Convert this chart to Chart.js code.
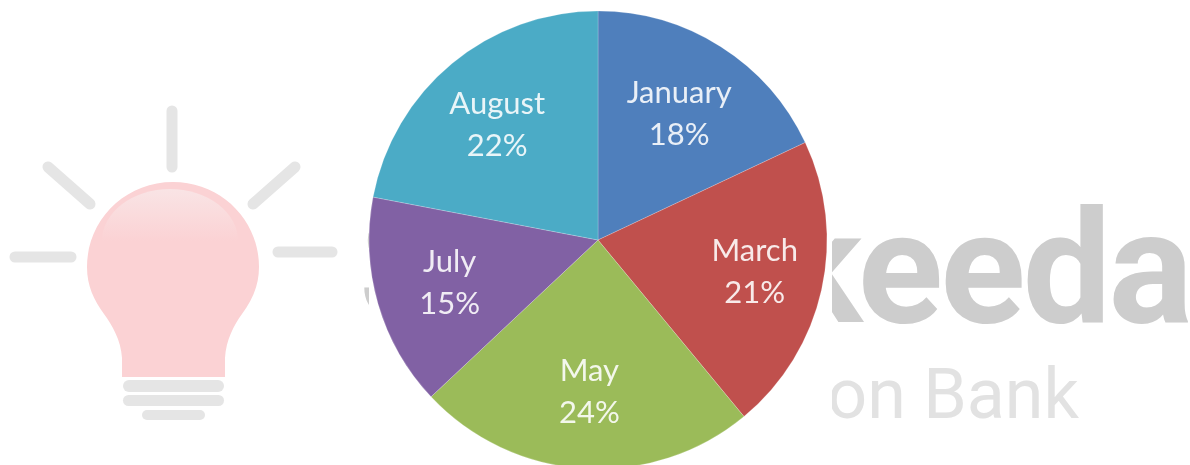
<!DOCTYPE html>
<html>
<head>
<meta charset="utf-8">
<title>Monthly share</title>
<script src="https://cdn.jsdelivr.net/npm/chart.js@4"></script>
<style>
    html, body { margin: 0; padding: 0; background: #fff; }
    #page { position: relative; width: 1190px; height: 465px; overflow: hidden; }
    #brand, #pie { position: absolute; left: 0; top: 0; }
</style>
</head>
<body>
<div id="page">
    <!-- brand mark that sits behind the pie -->
    <svg id="brand" width="1190" height="465" viewBox="0 0 1190 465">
        <defs>
            <linearGradient id="shine" x1="0" y1="0" x2="0" y2="1">
                <stop offset="0" stop-color="#f9e4e5"/>
                <stop offset="1" stop-color="#fbd2d4"/>
            </linearGradient>
        </defs>
        <g stroke="#e5e5e5" stroke-width="11" stroke-linecap="round">
            <line x1="172" y1="111" x2="172" y2="167"/>
            <line x1="48" y1="167" x2="90" y2="204"/>
            <line x1="295" y1="167" x2="253" y2="204"/>
            <line x1="15" y1="257" x2="71" y2="257"/>
            <line x1="278" y1="252" x2="332" y2="252"/>
        </g>
        <path fill="#fbd2d4" d="M122 377 L122 358 C121 340 112 325 104 314 C94 300 87 286 87 267 C87 220 125 182 173 182 C221 182 259 220 259 267 C259 286 252 300 242 314 C234 325 226 340 225 358 L225 377 Z"/>
        <path fill="url(#shine)" d="M102 241 A68 52 0 0 1 238 241 Z"/>
        <g fill="#e5e5e5">
            <rect x="123" y="380" width="101" height="12" rx="6"/>
            <rect x="123" y="395" width="101" height="11" rx="5.5"/>
            <rect x="142" y="410" width="63" height="10" rx="5"/>
        </g>
        <text x="1190" y="322" text-anchor="end" font-family="Roboto" font-weight="700" font-size="158" letter-spacing="-3" fill="#cdcdcd">Smartkeeda</text>
        <text x="1079" y="418" text-anchor="end" font-family="Roboto" font-size="70" fill="#e2e2e2">Question Bank</text>
        <rect x="369" y="0" width="463" height="465" fill="#fff"/>
    </svg>
    <canvas id="pie" width="1196" height="480"></canvas>
</div>
<script>
const months = ['January', 'March', 'May', 'July', 'August'];
const shares = [18, 21, 24, 15, 22];
const sliceColors = ['#4f7fbc', '#c0504d', '#9bbb59', '#8161a4', '#4babc6'];

// Small hand adjustments so each label sits where it reads best in its slice
const labelNudge = [[-1, 4], [7, -1], [1, -1], [-1, 0], [-3, 3]];

// Writes "month / share%" inside each slice, two lines centred on the arc's label point
const sliceLabels = {
    id: 'sliceLabels',
    afterDatasetsDraw(chart) {
        const ctx = chart.ctx;
        const arcs = chart.getDatasetMeta(0).data;
        ctx.save();
        ctx.font = '31px Lato';
        ctx.fillStyle = 'rgba(255,255,255,0.88)';
        ctx.textAlign = 'center';
        ctx.textBaseline = 'middle';
        arcs.forEach((arc, i) => {
            const mid = (arc.startAngle + arc.endAngle) / 2;
            const r = arc.outerRadius * 0.67;
            const x = arc.x + Math.cos(mid) * r + labelNudge[i][0];
            const y = arc.y + Math.sin(mid) * r + labelNudge[i][1];
            ctx.fillText(months[i], x, y - 21);
            ctx.fillText(shares[i] + '%', x, y + 21);
        });
        ctx.restore();
    }
};

new Chart(document.getElementById('pie'), {
    type: 'pie',
    data: {
        labels: months,
        datasets: [{
            data: shares,
            backgroundColor: sliceColors,
            borderColor: 'rgba(255,255,255,0.2)',
            borderWidth: 1,
            radius: 229
        }]
    },
    options: {
        responsive: false,
        animation: false,
        layout: { padding: 0 },
        plugins: { legend: { display: false }, tooltip: { enabled: false } }
    },
    plugins: [sliceLabels]
});
</script>
</body>
</html>
